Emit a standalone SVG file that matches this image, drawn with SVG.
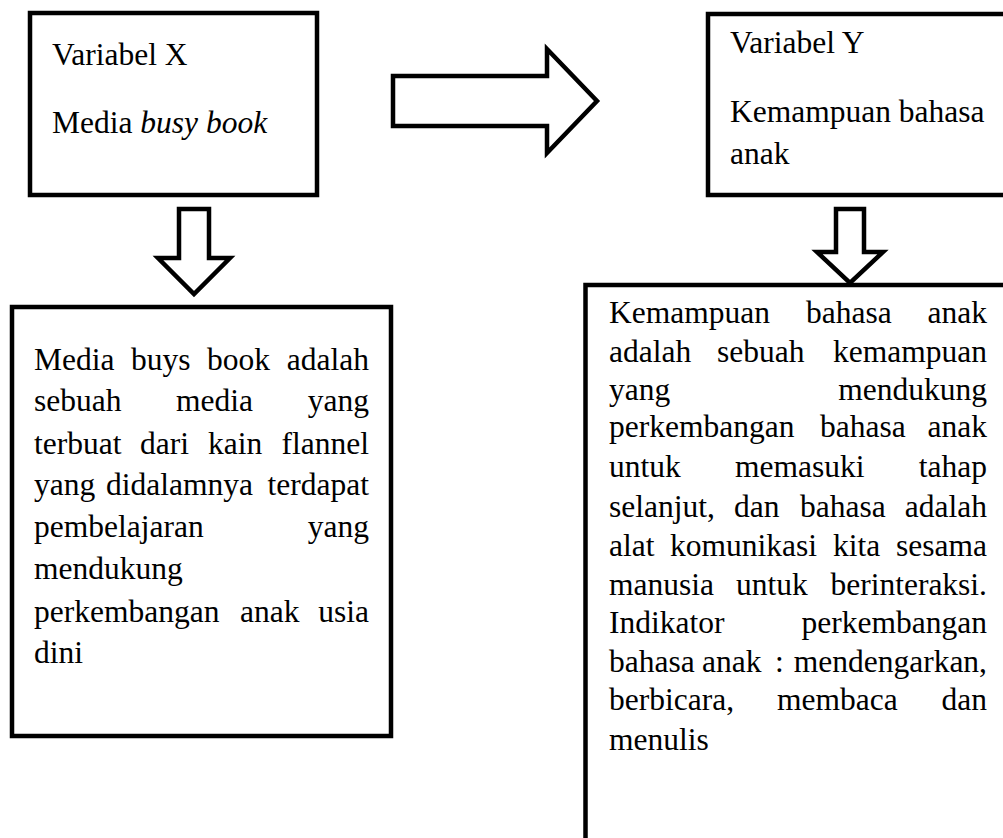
<svg xmlns="http://www.w3.org/2000/svg" width="1003" height="838" viewBox="0 0 1003 838">
<style>
.box{fill:#fff;stroke:#000;stroke-width:4.5}
.arr{fill:#fff;stroke:#000;stroke-width:4.5;stroke-linejoin:miter;stroke-miterlimit:10}
text{font-family:"Liberation Serif","Times New Roman",serif;font-size:31.5px;fill:#000}
.e{text-anchor:end}
</style>
<rect width="1003" height="838" fill="#fff"/>
<g id="connectors">
<path class="arr" d="M393,76 L547,76 L547,49 L597,101 L547,153 L547,126 L393,126 Z"/>
<path class="arr" d="M179,209 L209,209 L209,258 L230,258 L194,294 L158,258 L179,258 Z"/>
<path class="arr" d="M836,209 L864,209 L864,252 L883,252 L850,283 L817,252 L836,252 Z"/>
</g>
<g id="node-x">
<rect class="box" x="30" y="13" width="287" height="182"/>
<text x="52" y="65">Variabel X</text>
<text x="52" y="133">Media <tspan font-style="italic">busy book</tspan></text>
</g>
<g id="node-y">
<rect class="box" x="708" y="14" width="320" height="181"/>
<text x="730" y="53">Variabel Y</text>
<text x="730" y="122">Kemampuan bahasa</text>
<text x="730" y="164">anak</text>
</g>
<g id="node-x-desc">
<rect class="box" x="12" y="307" width="379" height="429"/>
<text y="370"><tspan x="34">Media</tspan><tspan x="131">buys</tspan><tspan x="207">book</tspan><tspan class="e" x="369">adalah</tspan></text>
<text y="411"><tspan x="34">sebuah</tspan><tspan x="176">media</tspan><tspan class="e" x="369">yang</tspan></text>
<text y="454"><tspan x="34">terbuat</tspan><tspan x="140">dari</tspan><tspan x="208">kain</tspan><tspan class="e" x="369">flannel</tspan></text>
<text y="495"><tspan x="34">yang</tspan><tspan x="106">didalamnya</tspan><tspan class="e" x="369">terdapat</tspan></text>
<text y="537"><tspan x="34">pembelajaran</tspan><tspan class="e" x="369">yang</tspan></text>
<text x="34" y="579">mendukung</text>
<text y="622"><tspan x="34">perkembangan</tspan><tspan x="240">anak</tspan><tspan class="e" x="369">usia</tspan></text>
<text x="34" y="663">dini</text>
</g>
<g id="node-y-desc">
<rect class="box" x="585.5" y="285" width="440" height="600"/>
<text y="323"><tspan x="609">Kemampuan</tspan><tspan x="806">bahasa</tspan><tspan class="e" x="987">anak</tspan></text>
<text y="362"><tspan x="609">adalah</tspan><tspan x="717">sebuah</tspan><tspan class="e" x="987">kemampuan</tspan></text>
<text y="400"><tspan x="609">yang</tspan><tspan class="e" x="987">mendukung</tspan></text>
<text y="437"><tspan x="609">perkembangan</tspan><tspan x="820">bahasa</tspan><tspan class="e" x="987">anak</tspan></text>
<text y="477"><tspan x="609">untuk</tspan><tspan x="735">memasuki</tspan><tspan class="e" x="987">tahap</tspan></text>
<text y="517"><tspan x="609">selanjut,</tspan><tspan x="734">dan</tspan><tspan x="800">bahasa</tspan><tspan class="e" x="987">adalah</tspan></text>
<text y="556"><tspan x="609">alat</tspan><tspan x="670">komunikasi</tspan><tspan x="833">kita</tspan><tspan class="e" x="987">sesama</tspan></text>
<text y="595"><tspan x="609">manusia</tspan><tspan x="736">untuk</tspan><tspan class="e" x="987">berinteraksi.</tspan></text>
<text y="633"><tspan x="609">Indikator</tspan><tspan class="e" x="987">perkembangan</tspan></text>
<text y="672"><tspan x="609">bahasa</tspan><tspan x="702">anak</tspan><tspan x="775">:</tspan><tspan class="e" x="987">mendengarkan,</tspan></text>
<text y="710"><tspan x="609">berbicara,</tspan><tspan x="777">membaca</tspan><tspan class="e" x="987">dan</tspan></text>
<text x="609" y="750">menulis</text>
</g>
</svg>
